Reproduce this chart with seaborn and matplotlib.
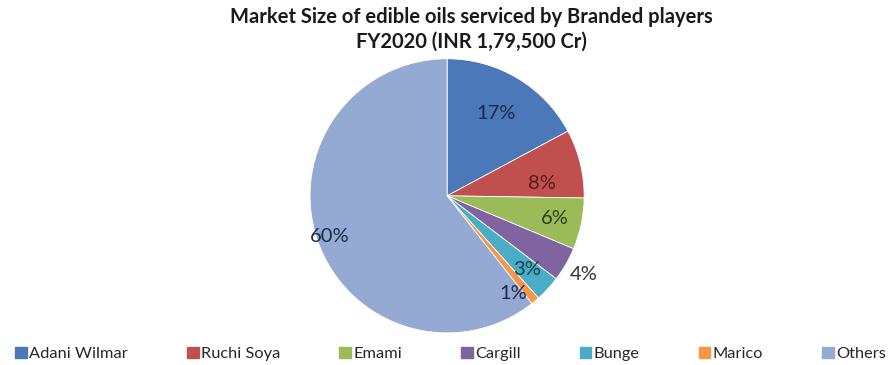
import numpy as np
import matplotlib
matplotlib.use("Agg")
import matplotlib.pyplot as plt
import matplotlib.patches as mpatches
import seaborn as sns

companies = ["Adani Wilmar", "Ruchi Soya", "Emami", "Cargill", "Bunge", "Marico", "Others"]
shares = [17, 8, 6, 4, 3, 1, 60]
slice_colors = ["#4A78B8", "#C0504D", "#9BBB59", "#8064A2", "#4BACC6", "#F79646", "#95AAD3"]
label_colors = ["#1c2a48", "#5a1a1a", "#2d4012", "#333333", "#173f4a", "#1c2a48", "#1c2a48"]
label_dist = [0.70, 0.70, 0.80, 1.15, 0.79, 0.86, 0.91]
label_angle_shift = [0, -6, 0, 0, 0, -6, 0]

sns.set_theme(style="white")
plt.rcParams['font.family'] = ['Lato', 'DejaVu Sans']

fig = plt.figure(figsize=(8.96, 3.65), dpi=100)
ax = fig.add_axes([0.346, 0.088, 0.306, 0.751])

wedges, _ = ax.pie(shares, colors=slice_colors, startangle=90, counterclock=False,
                   radius=1.0, wedgeprops=dict(edgecolor="white", linewidth=0.6))
for w, val, c, d, s in zip(wedges, shares, label_colors, label_dist, label_angle_shift):
    ang = np.deg2rad((w.theta1 + w.theta2) / 2 + s)
    ax.text(d * np.cos(ang), d * np.sin(ang), f"{val}%", ha="center", va="center",
            fontsize=14.5, color=c)
ax.set_xlim(-1, 1)
ax.set_ylim(-1, 1)
ax.set_aspect("equal")
ax.axis("off")

fig.text(471 / 896, 1 - 7 / 365,
         "Market Size of edible oils serviced by Branded players\nFY2020 (INR 1,79,500 Cr)",
         ha="center", va="top", fontsize=14.5, fontweight="bold", linespacing=1.3,
         color="#1a1a1a")

handles = [mpatches.Patch(color=c, label=n) for c, n in zip(slice_colors, companies)]
fig.legend(handles=handles, loc="lower center", bbox_to_anchor=(0.503, -0.03), ncol=7,
           frameon=False, fontsize=11.8, handlelength=0.7, handleheight=0.7,
           handletextpad=0.15, columnspacing=3.6)

fig.savefig("out.png", dpi=100, facecolor="white")
